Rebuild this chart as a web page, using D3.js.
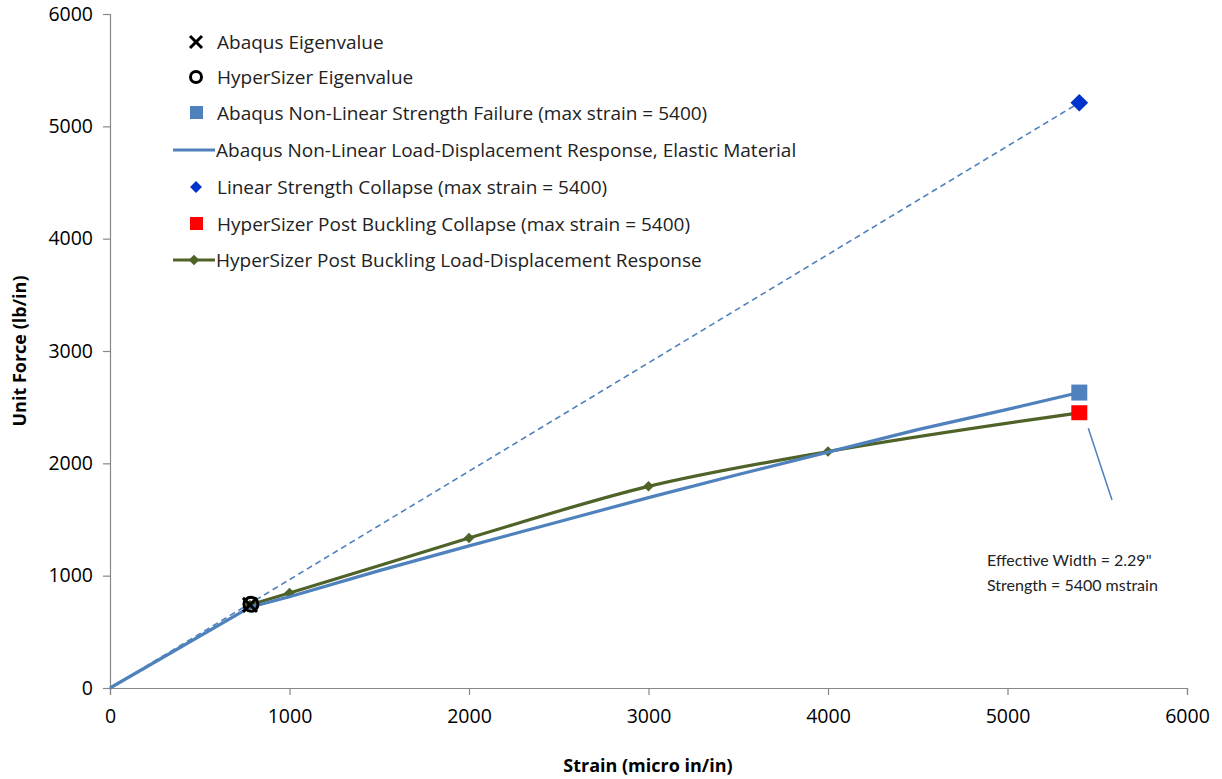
<!DOCTYPE html>
<html>
<head>
<meta charset="utf-8">
<script src="https://cdn.jsdelivr.net/npm/d3@7"></script>
<style>
  body { margin: 0; background: #fff; }
  svg { display: block; font-family: 'Open Sans', sans-serif; }
</style>
</head>
<body>
<svg id="chart" width="1222" height="779"></svg>
<script>
// data
const xTicks = [0, 1000, 2000, 3000, 4000, 5000, 6000]
const yTicks = [0, 1000, 2000, 3000, 4000, 5000, 6000]
const abaqusEigen = [[780, 740]]
const hyperEigen = [[785, 745]]
const abaqusFailure = [[5400, 2630]]
const abaqusCurve = [[0, 0], [780, 720], [1000, 812], [1500, 1045], [2000, 1265], [2500, 1480], [3000, 1695], [3500, 1900], [4000, 2100], [4500, 2300], [5000, 2480], [5400, 2630]]
const linearLine = [[0, 0], [5400, 5210]]
const linearCollapse = [[5400, 5210]]
const hyperCollapse = [[5400, 2455]]
const hyperCurve = [[780, 740], [1000, 845], [2000, 1335], [3000, 1795], [4000, 2105], [5400, 2450]]
const legendLabels = [
  'Abaqus Eigenvalue',
  'HyperSizer Eigenvalue',
  'Abaqus Non-Linear Strength Failure (max strain = 5400)',
  'Abaqus Non-Linear Load-Displacement Response, Elastic Material',
  'Linear Strength Collapse (max strain = 5400)',
  'HyperSizer Post Buckling Collapse (max strain = 5400)',
  'HyperSizer Post Buckling Load-Displacement Response'
]
const noteLines = ['Effective Width = 2.29"', 'Strength = 5400 mstrain']

const blue = '#4F81BD'
const green = '#4F6228'
const svg = d3.select('#chart')
const x = d3.scaleLinear().domain([0, 6000]).range([110, 1187])
const y = d3.scaleLinear().domain([0, 6000]).range([688, 14])

// axes
const xAxis = svg.append('g').attr('transform', `translate(0,${y(0)})`)
  .call(d3.axisBottom(x).tickValues(xTicks).tickSize(7).tickPadding(12).tickFormat(d3.format('d')))
const yAxis = svg.append('g').attr('transform', `translate(${x(0)},0)`)
  .call(d3.axisLeft(y).tickValues(yTicks).tickSize(7).tickPadding(10).tickFormat(d3.format('d')))
for (const g of [xAxis, yAxis]) {
  g.select('.domain').attr('stroke', '#888').attr('stroke-width', 1.2)
  g.selectAll('.tick line').attr('stroke', '#888').attr('stroke-width', 1.2)
  g.selectAll('.tick text').attr('fill', '#000').style('font-size', '19.5px').style('font-family', "'Open Sans', sans-serif")
}
xAxis.selectAll('.tick text').attr('dy', '0.8em')

svg.append('text').attr('x', 648).attr('y', 772).attr('text-anchor', 'middle')
  .style('font-size', '18px').style('font-weight', 'bold').text('Strain (micro in/in)')
svg.append('text').attr('transform', 'translate(26,351) rotate(-90)').attr('text-anchor', 'middle')
  .style('font-size', '18px').style('font-weight', 'bold').text('Unit Force (lb/in)')

const line = d3.line().x(d => x(d[0])).y(d => y(d[1]))
const smooth = d3.line().x(d => x(d[0])).y(d => y(d[1])).curve(d3.curveMonotoneX)
const diamond = d3.symbol().type(d3.symbolDiamond2)

// series
svg.append('path').attr('d', line(linearLine)).attr('fill', 'none')
  .attr('stroke', blue).attr('stroke-width', 1.6).attr('stroke-dasharray', '6,4')
svg.append('path').attr('d', smooth(hyperCurve)).attr('fill', 'none')
  .attr('stroke', green).attr('stroke-width', 3.2)
svg.selectAll('.hdot').data(hyperCurve).join('path').attr('class', 'hdot')
  .attr('transform', d => `translate(${x(d[0])},${y(d[1])})`)
  .attr('d', diamond.size(70)()).attr('fill', green)
svg.append('path').attr('d', line(abaqusCurve)).attr('fill', 'none')
  .attr('stroke', blue).attr('stroke-width', 3.2).attr('stroke-linejoin', 'round')

svg.selectAll('.lcol').data(linearCollapse).join('path').attr('class', 'lcol')
  .attr('transform', d => `translate(${x(d[0])},${y(d[1])})`)
  .attr('d', diamond.size(200)()).attr('fill', '#0033CC')
svg.selectAll('.afail').data(abaqusFailure).join('rect').attr('class', 'afail')
  .attr('x', d => x(d[0]) - 8).attr('y', d => y(d[1]) - 8).attr('width', 16).attr('height', 16).attr('fill', blue)
svg.selectAll('.hcol').data(hyperCollapse).join('rect').attr('class', 'hcol')
  .attr('x', d => x(d[0]) - 8).attr('y', d => y(d[1]) - 7).attr('width', 16).attr('height', 15).attr('fill', '#FF0000')

svg.selectAll('.heig').data(hyperEigen).join('circle').attr('class', 'heig')
  .attr('cx', d => x(d[0])).attr('cy', d => y(d[1])).attr('r', 7)
  .attr('fill', 'none').attr('stroke', '#000').attr('stroke-width', 3)
svg.selectAll('.aeig').data(abaqusEigen).join('g').attr('class', 'aeig')
  .attr('transform', d => `translate(${x(d[0])},${y(d[1])})`)
  .call(g => {
    g.append('line').attr('x1', -7).attr('y1', -7).attr('x2', 7).attr('y2', 7)
    g.append('line').attr('x1', -7).attr('y1', 7).attr('x2', 7).attr('y2', -7)
  })
  .selectAll('line').attr('stroke', '#000').attr('stroke-width', 3)

// annotation
svg.append('line').attr('x1', x(5400) + 9).attr('y1', y(2455) + 16).attr('x2', 1112).attr('y2', 500)
  .attr('stroke', blue).attr('stroke-width', 1.5)
svg.selectAll('.note').data(noteLines).join('text').attr('class', 'note')
  .attr('x', 987).attr('y', (d, i) => 566 + i * 25).style('font-size', '16px')
  .style('font-family', 'Lato, sans-serif').attr('fill', '#222').text(d => d)

// legend
const rowY = [42, 77, 113, 150, 187, 224, 260]
const lg = svg.append('g')
lg.selectAll('text').data(legendLabels).join('text')
  .attr('x', (d, i) => (i === 3 || i === 6) ? 216 : 217).attr('y', (d, i) => rowY[i]).attr('dy', '0.35em')
  .style('font-size', '19px').attr('fill', '#222').text(d => d)
lg.append('g').attr('transform', `translate(196,${rowY[0]})`).call(g => {
  g.append('line').attr('x1', -6).attr('y1', -6).attr('x2', 6).attr('y2', 6)
  g.append('line').attr('x1', -6).attr('y1', 6).attr('x2', 6).attr('y2', -6)
}).selectAll('line').attr('stroke', '#000').attr('stroke-width', 3)
lg.append('circle').attr('cx', 196).attr('cy', rowY[1]).attr('r', 5.5).attr('fill', 'none').attr('stroke', '#000').attr('stroke-width', 3)
lg.append('rect').attr('x', 190).attr('y', rowY[2] - 7).attr('width', 13).attr('height', 13).attr('fill', blue)
lg.append('line').attr('x1', 173).attr('x2', 215).attr('y1', rowY[3]).attr('y2', rowY[3]).attr('stroke', blue).attr('stroke-width', 3)
lg.append('path').attr('transform', `translate(196,${rowY[4]})`).attr('d', diamond.size(90)()).attr('fill', '#0033CC')
lg.append('rect').attr('x', 190).attr('y', rowY[5] - 7).attr('width', 13).attr('height', 13).attr('fill', '#FF0000')
lg.append('line').attr('x1', 173).attr('x2', 215).attr('y1', rowY[6]).attr('y2', rowY[6]).attr('stroke', green).attr('stroke-width', 3)
lg.append('path').attr('transform', `translate(194,${rowY[6]})`).attr('d', diamond.size(70)()).attr('fill', green)
</script>
</body>
</html>
